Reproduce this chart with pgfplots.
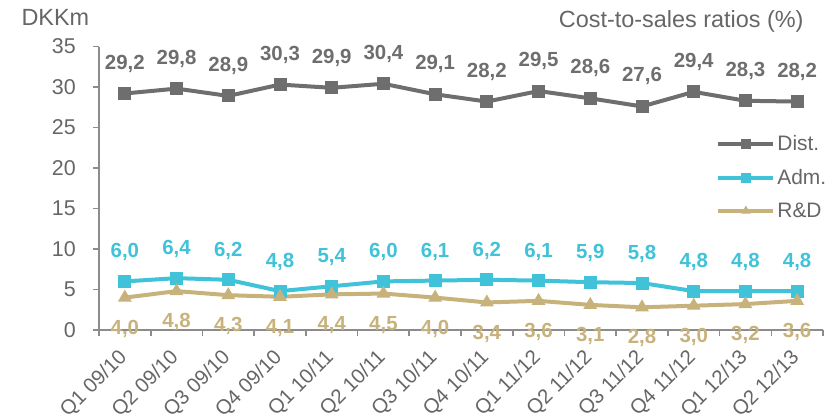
\documentclass[border=0pt]{standalone}
\usepackage{pgfplots}
\pgfplotsset{compat=1.18}
\usepackage{fontspec}
\setmainfont{Liberation Sans}

\definecolor{distgray}{HTML}{6E6E6E}
\definecolor{admcyan}{HTML}{40C2D8}
\definecolor{rdtan}{HTML}{C8B27C}
\definecolor{axisgray}{HTML}{8C8C8C}
\definecolor{textgray}{HTML}{666666}

\pgfplotsset{
  vallabel/.style 2 args={
    nodes near coords={\pgfmathprintnumber[fixed,fixed zerofill,precision=1,use comma]{\pgfplotspointmeta}},
    every node near coord/.append style={anchor=center, yshift=#1,
      font=\fontsize{20.5}{20.5}\selectfont\bfseries, text=#2, inner sep=0pt},
  },
}

\begin{document}
\begin{tikzpicture}[x=1bp,y=1bp]
\path[use as bounding box] (-99,-86) rectangle (736,330);
\begin{axis}[
  at={(0,0)}, anchor=south west,
  scale only axis, width=724bp, height=283.5bp,
  xmin=-0.5, xmax=13.5, ymin=0, ymax=35,
  axis x line*=bottom, axis y line*=left,
  axis line style={draw=axisgray, line width=1.6bp},
  tick align=outside,
  major tick length=6bp,
  tick style={draw=axisgray, line width=1.6bp},
  ytick={0,5,...,35},
  xtick={-0.5,0.5,...,13.5}, xticklabels={},
  extra x ticks={0,...,13},
  extra x tick labels={Q1 09/10,Q2 09/10,Q3 09/10,Q4 09/10,Q1 10/11,Q2 10/11,Q3 10/11,Q4 10/11,Q1 11/12,Q2 11/12,Q3 11/12,Q4 11/12,Q1 12/13,Q2 12/13},
  extra x tick style={major tick length=0pt},
  x tick label style={xshift=-1bp, yshift=-24bp, rotate=45, anchor=east, inner sep=0pt,
    font=\fontsize{20.5}{20.5}\selectfont, text=textgray},
  y tick label style={inner sep=0pt, xshift=-17bp, anchor=east,
    font=\fontsize{21.5}{21.5}\selectfont, text=textgray},
  /pgf/number format/assume math mode=true,
  clip=false,
  legend style={at={(axis description cs:0.8525,0.693)}, anchor=north west,
    draw=none, fill=none, inner sep=0pt, row sep=13bp,
    font=\fontsize{21}{21}\selectfont, text=textgray},
  legend cell align=left,
  legend image code/.code={%
    \draw[mark repeat=2,mark phase=2,#1,mark size=4.5bp] plot coordinates {(0bp,0bp) (27.5bp,0bp) (55bp,0bp)};},
]
% distribution costs
\addplot[color=distgray, line width=4bp, mark=square*, mark size=6bp,
  mark options={solid, line width=1bp}, vallabel={30bp}{distgray}] coordinates {
  (0,29.2) (1,29.8) (2,28.9) (3,30.3) (4,29.9) (5,30.4) (6,29.1)
  (7,28.2) (8,29.5) (9,28.6) (10,27.6) (11,29.4) (12,28.3) (13,28.2)};
\addlegendentry{Dist.}
% administrative costs
\addplot[color=admcyan, line width=4bp, mark=square*, mark size=6bp,
  mark options={solid, line width=1bp}, vallabel={29bp}{admcyan}] coordinates {
  (0,6.0) (1,6.4) (2,6.2) (3,4.8) (4,5.4) (5,6.0) (6,6.1)
  (7,6.2) (8,6.1) (9,5.9) (10,5.8) (11,4.8) (12,4.8) (13,4.8)};
\addlegendentry{Adm.}
% research and development costs
\addplot[color=rdtan, line width=4bp, mark=triangle*, mark size=7bp,
  mark options={solid, line width=1bp}, vallabel={-31bp}{rdtan}] coordinates {
  (0,4.0) (1,4.8) (2,4.3) (3,4.1) (4,4.4) (5,4.5) (6,4.0)
  (7,3.4) (8,3.6) (9,3.1) (10,2.8) (11,3.0) (12,3.2) (13,3.6)};
\addlegendentry{R\&D}
\end{axis}
\node[anchor=base west, font=\fontsize{23.5}{23.5}\selectfont, text=textgray] at (-81,305) {DKKm};
\node[anchor=base east, font=\fontsize{23.5}{23.5}\selectfont, text=textgray] at (708,303) {Cost-to-sales ratios (\%)};
\end{tikzpicture}
\end{document}
